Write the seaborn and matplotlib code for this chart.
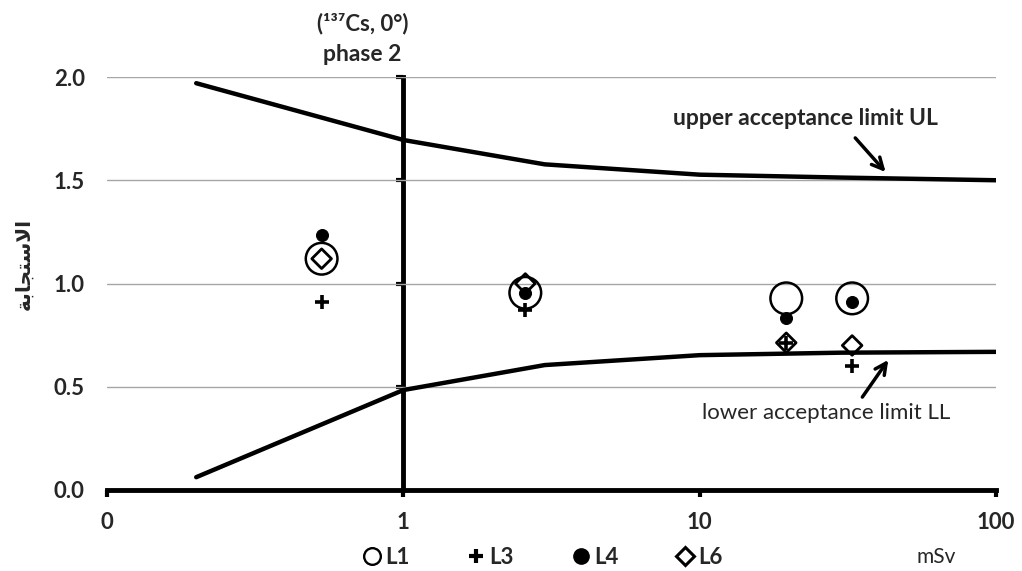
import numpy as np
import pandas as pd
import matplotlib
matplotlib.use("Agg")
import matplotlib.pyplot as plt
from matplotlib.lines import Line2D
from matplotlib.ticker import NullLocator
import seaborn as sns

# Acceptance limits (trumpet curve) versus dose in mSv
limit_dose = [0.2, 1, 3, 10, 30, 100]
upper_limit = [1.97, 1.695, 1.577, 1.527, 1.513, 1.50]
lower_limit = [0.062, 0.484, 0.605, 0.653, 0.665, 0.669]

# Dosemeter responses at the four irradiation doses
dose = [0.53, 2.58, 19.6, 32.7]
resp_L1 = [1.12, 0.955, 0.928, 0.928]
resp_L3 = [0.912, 0.874, 0.713, 0.600]
resp_L4 = [1.234, 0.955, 0.832, 0.908]
resp_L6 = [1.12, 1.00, 0.713, 0.700]

x_ticks = [0.1, 1, 10, 100]
x_tick_labels = ["0", "1", "10", "100"]
y_ticks = [0.0, 0.5, 1.0, 1.5, 2.0]
y_tick_labels = ["0.0", "0.5", "1.0", "1.5", "2.0"]

# Arabic axis title, pre-shaped into presentation forms in visual order
y_title = "\uFE94\uFE91\uFE8E\uFEA0\uFE98\uFEB3\uFEFB\uFE8D"

sns.set_theme(style="white")
plt.rcParams["font.family"] = ["Lato", "DejaVu Sans"]
plt.rcParams["font.weight"] = "bold"

W, H = 1022, 571
fig = plt.figure(figsize=(W / 100, H / 100), dpi=100)
ax = fig.add_axes([107 / W, 1 - 490 / H, (996 - 107) / W, (490 - 77) / H])
ax.set_xscale("log")
ax.set_xlim(0.1, 100)
ax.set_ylim(0, 2.0)

# Limit curves
limits = pd.DataFrame({
    "dose": limit_dose + limit_dose,
    "value": upper_limit + lower_limit,
    "limit": ["UL"] * len(limit_dose) + ["LL"] * len(limit_dose),
})
sns.lineplot(data=limits, x="dose", y="value", units="limit", estimator=None,
             color="black", lw=3.2, ax=ax, zorder=2)

# Response points
sns.scatterplot(x=dose, y=resp_L1, marker="o", s=520, facecolor="none",
                edgecolor="black", color="black", linewidth=1.8, ax=ax, zorder=3)
sns.scatterplot(x=dose, y=resp_L3, marker="+", s=90, color="black",
                linewidth=2.6, ax=ax, zorder=3)
sns.scatterplot(x=dose, y=resp_L4, marker="o", s=75, color="black",
                edgecolor="black", ax=ax, zorder=3)
sns.scatterplot(x=dose, y=resp_L6, marker="D", s=100, facecolor="none",
                edgecolor="black", color="black", linewidth=2.0, ax=ax, zorder=4)

# Axes styling
ax.set_xlabel("")
ax.set_ylabel("")
for side in ("left", "top", "right"):
    ax.spines[side].set_visible(False)
ax.spines["bottom"].set_linewidth(3.5)
ax.spines["bottom"].set_color("black")
ax.spines["bottom"].set_zorder(5)

ax.set_xticks(x_ticks)
ax.set_xticklabels(x_tick_labels)
ax.xaxis.set_minor_locator(NullLocator())
ax.tick_params(axis="x", direction="out", length=5, width=3, color="black",
               pad=11, labelsize=16, bottom=True)

ax.set_yticks(y_ticks)
ax.set_yticklabels(y_tick_labels)
ax.tick_params(axis="y", length=0, pad=16, labelsize=16, left=True)
ax.yaxis.grid(True, color="#a6a6a6", lw=1)
ax.xaxis.grid(False)
ax.set_axisbelow(True)
for lab in ax.get_xticklabels() + ax.get_yticklabels():
    lab.set_fontweight("bold")

# Value axis drawn where it crosses the dose axis at 1 mSv
x_lo, x_hi = ax.get_xlim()
cross = (np.log10(1) - np.log10(x_lo)) / (np.log10(x_hi) - np.log10(x_lo))
sec = ax.secondary_yaxis(cross)
sec.spines["left"].set_linewidth(3.5)
sec.spines["left"].set_color("black")
sec.set_yticks(y_ticks[1:])
sec.tick_params(axis="y", direction="out", length=5, width=3, color="black",
                labelleft=False, labelright=False)

ax.set_ylabel(y_title, family="DejaVu Sans", fontsize=14.5, fontweight="bold")
ax.yaxis.set_label_coords((33 - 107) / 889, (490 - 264) / 413)

# Header above the crossing axis
header_x = 0.727
ax.text(header_x, (490 - 24) / 413, "(\u00b9\u00b3\u2077Cs, 0\u00b0)",
        transform=ax.get_xaxis_transform(), ha="center", va="center",
        fontsize=16, fontweight="bold", family=["Lato", "DejaVu Sans"])
ax.text(header_x, (490 - 54) / 413, "phase 2", transform=ax.get_xaxis_transform(),
        ha="center", va="center", fontsize=16.5, fontweight="bold")

# Limit annotations
ax.annotate("", xy=(42.4, 1.54), xytext=(33.5, 1.705),
            arrowprops=dict(arrowstyle="->", lw=2.5, color="black",
                            mutation_scale=20, shrinkA=0, shrinkB=0))
ax.text(22.7, 1.80, "upper acceptance limit UL", ha="center", va="center",
        fontsize=16.5, fontweight="bold")
ax.annotate("", xy=(43.3, 0.63), xytext=(35.4, 0.45),
            arrowprops=dict(arrowstyle="->", lw=2.5, color="black",
                            mutation_scale=20, shrinkA=0, shrinkB=0))
ax.text(26.8, 0.373, "lower acceptance limit LL", ha="center", va="center",
        fontsize=16, fontweight="normal")

# Legend and unit below the dose axis
handles = [
    Line2D([], [], ls="none", marker="o", markersize=12, markerfacecolor="none",
           markeredgecolor="black", markeredgewidth=1.7),
    Line2D([], [], ls="none", marker="+", markersize=10, color="black",
           markeredgewidth=3),
    Line2D([], [], ls="none", marker="o", markersize=11, color="black"),
    Line2D([], [], ls="none", marker="D", markersize=9, markerfacecolor="none",
           markeredgecolor="black", markeredgewidth=2.2),
]
fig.legend(handles, ["L1", "L3", "L4", "L6"], loc="center",
           bbox_to_anchor=(543 / W, 1 - 557 / H), ncol=4, frameon=False,
           handlelength=0.8, handletextpad=0.2, columnspacing=2.6,
           prop=dict(size=16, weight="bold"))
fig.text(936 / W, 1 - 557 / H, "mSv", ha="center", va="center",
         fontsize=15, fontweight="normal")

fig.savefig("out.png", dpi=100)
